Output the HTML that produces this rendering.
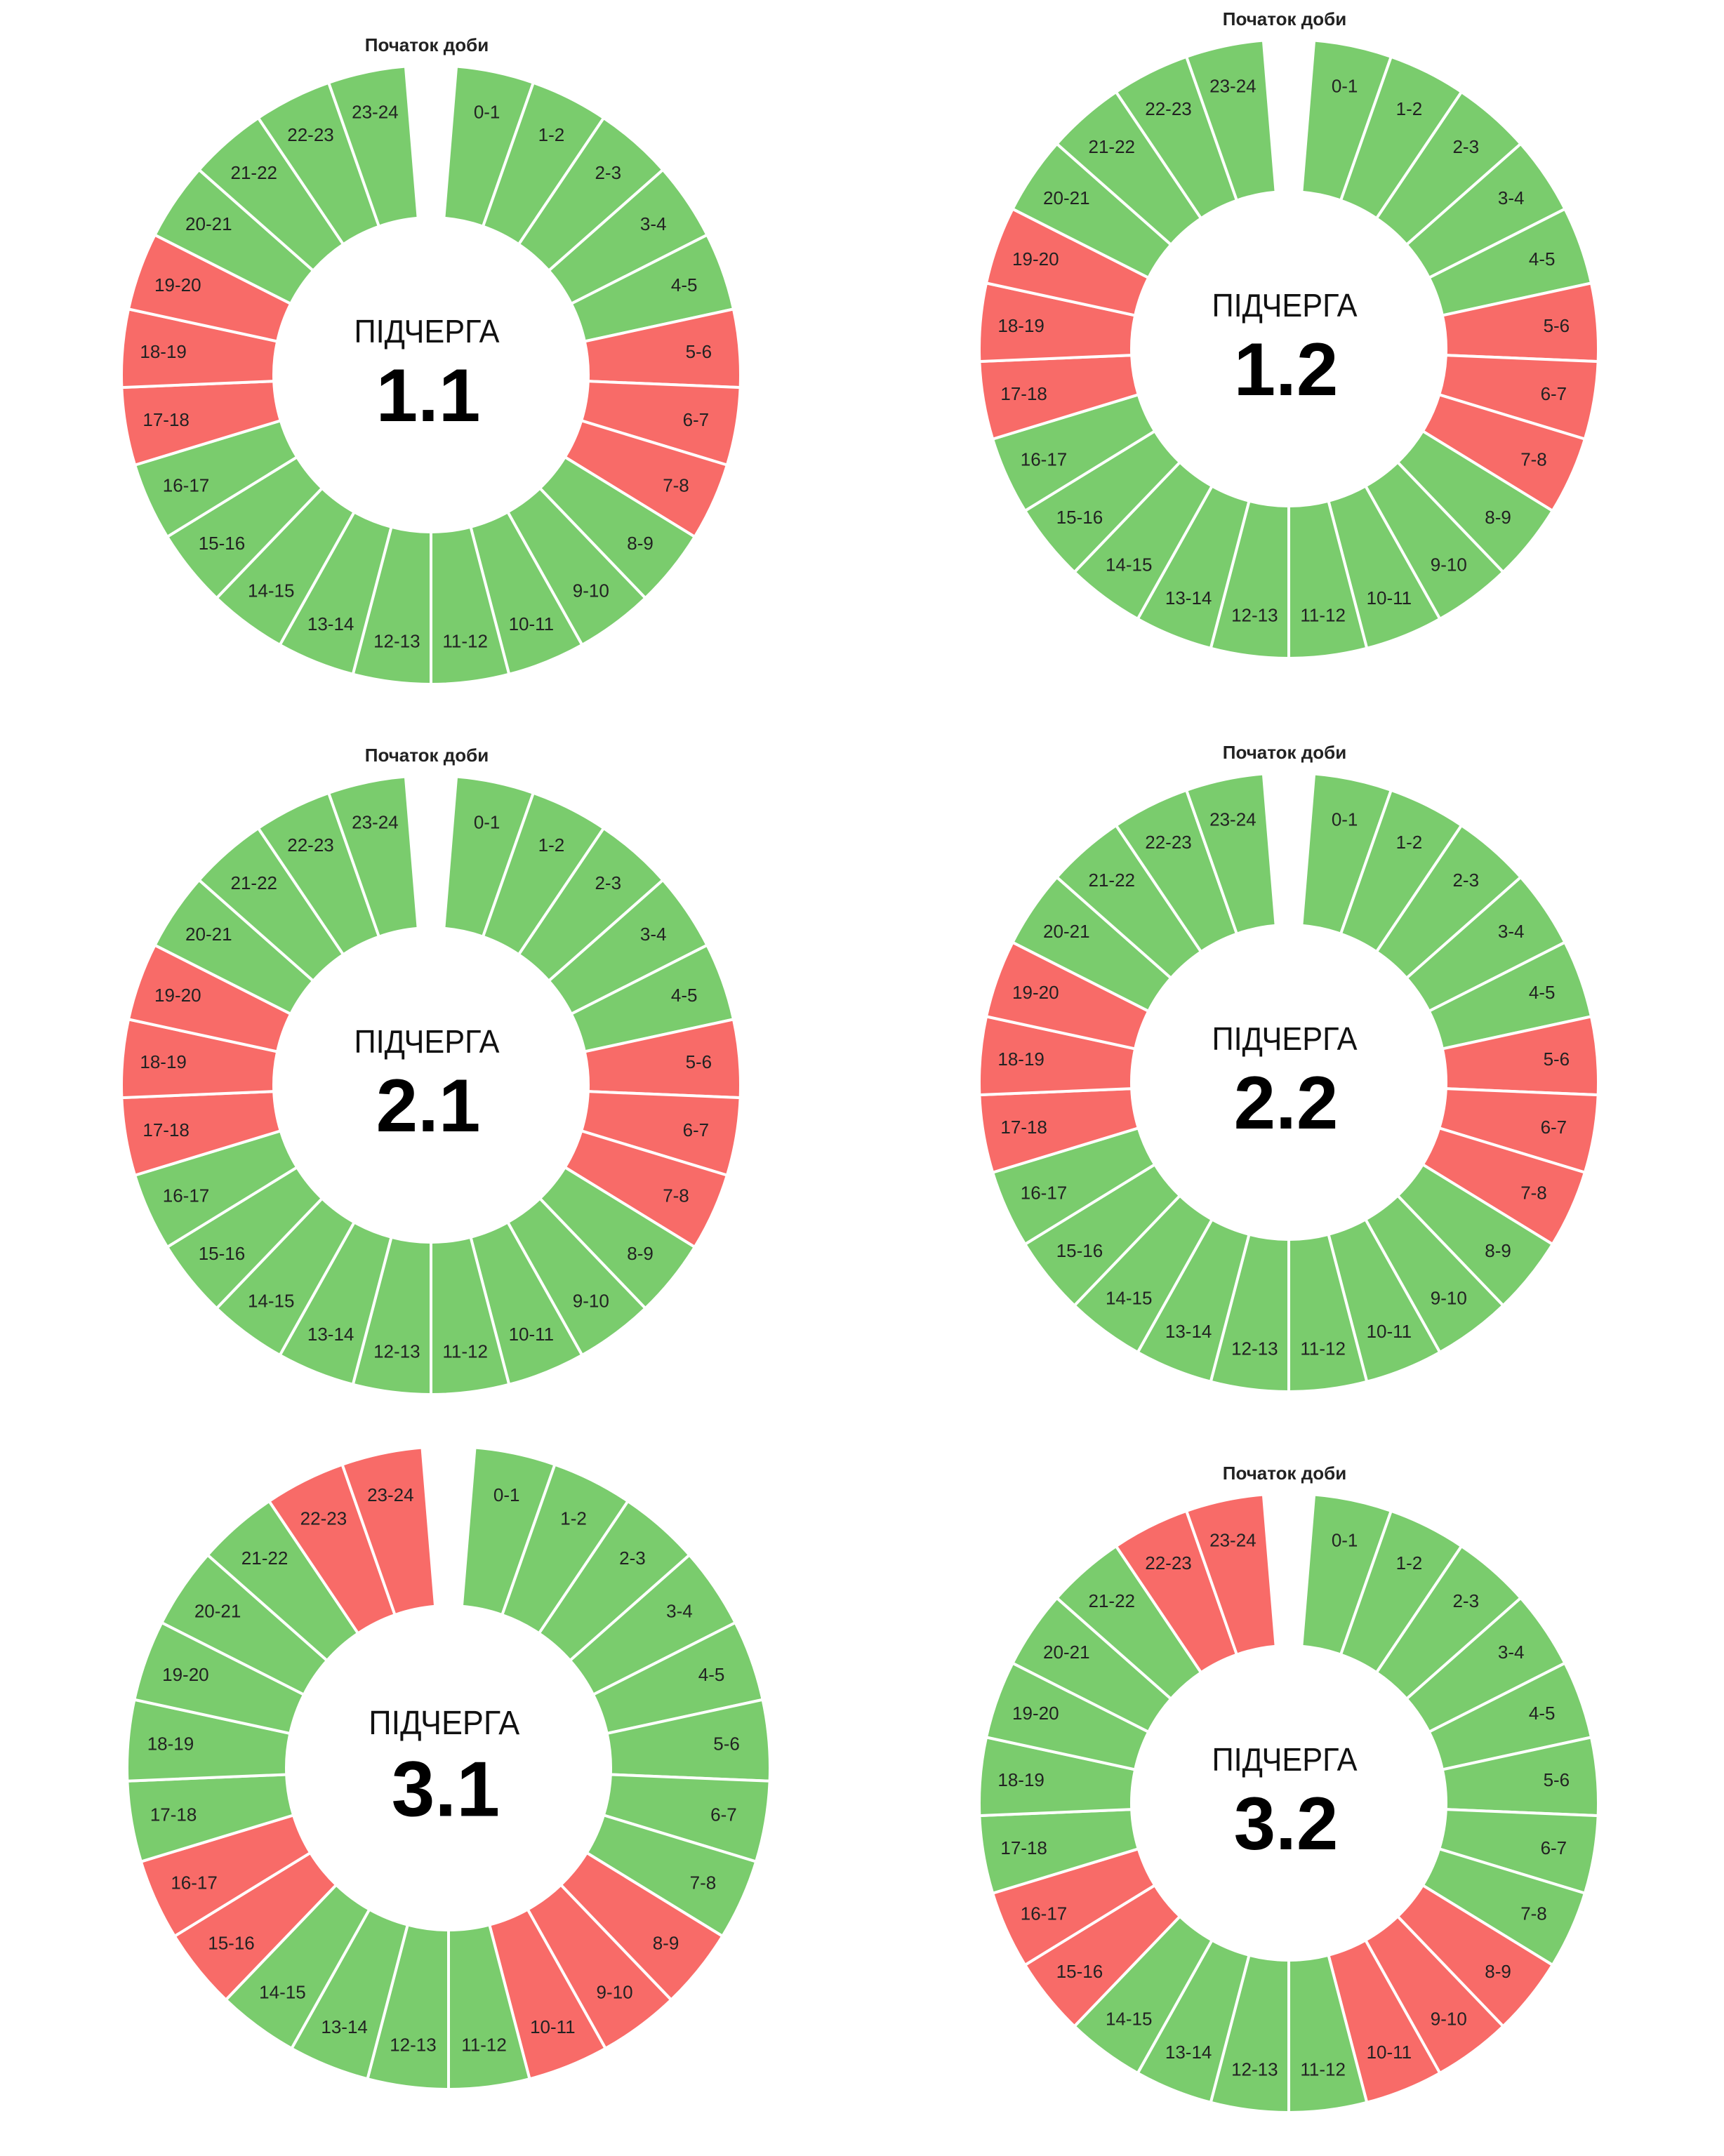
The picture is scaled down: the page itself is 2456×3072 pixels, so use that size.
<!DOCTYPE html>
<html><head><meta charset="utf-8"><style>
html,body{margin:0;padding:0;background:#fff;}
svg{display:block;}
</style></head><body>
<svg id="chart" width="2456" height="3072" viewBox="0 0 2456 3072" xmlns="http://www.w3.org/2000/svg"></svg>
<script>
const hourLabels = ["0-1","1-2","2-3","3-4","4-5","5-6","6-7","7-8","8-9","9-10","10-11","11-12","12-13","13-14","14-15","15-16","16-17","17-18","18-19","19-20","20-21","21-22","22-23","23-24"];
const queueNames = ["1.1","1.2","2.1","2.2","3.1","3.2"];
const offHours11 = [5,6,7,17,18,19];
const offHours12 = [5,6,7,17,18,19];
const offHours21 = [5,6,7,17,18,19];
const offHours22 = [5,6,7,17,18,19];
const offHours31 = [8,9,10,15,16,22,23];
const offHours32 = [8,9,10,15,16,22,23];
const offHoursAll = [offHours11, offHours12, offHours21, offHours22, offHours31, offHours32];
const showStartLabel = [true, true, true, true, false, true];

const layout = [
  {cx:614, cy:534, rOut:441, rIn:224},
  {cx:1836, cy:497, rOut:441, rIn:224},
  {cx:614, cy:1546, rOut:441, rIn:224},
  {cx:1836, cy:1542, rOut:441, rIn:224},
  {cx:639, cy:2519, rOut:458, rIn:231},
  {cx:1836, cy:2569, rOut:441, rIn:224}
];
const GREEN = "#7acc6d", RED = "#f86b68";
const GAP = 9.4;
const svg = document.getElementById('chart');
const NS = "http://www.w3.org/2000/svg";

function pt(cx, cy, r, deg){ const a = deg*Math.PI/180; return [cx + r*Math.sin(a), cy - r*Math.cos(a)]; }
function angleScale(i){ const w = (360-GAP)/hourLabels.length; return GAP/2 + i*w; }

queueNames.forEach(function(q, k){
  const L = layout[k];
  const g = document.createElementNS(NS, 'g');
  
  
  svg.appendChild(g);
  hourLabels.forEach(function(lab, i){
    const a0 = angleScale(i), a1 = angleScale(i+1);
    const p1 = pt(L.cx, L.cy, L.rOut, a0), p2 = pt(L.cx, L.cy, L.rOut, a1);
    const p3 = pt(L.cx, L.cy, L.rIn, a1), p4 = pt(L.cx, L.cy, L.rIn, a0);
    const path = document.createElementNS(NS, 'path');
    path.setAttribute('d', 'M'+p1+' A'+L.rOut+' '+L.rOut+' 0 0 1 '+p2+' L'+p3+' A'+L.rIn+' '+L.rIn+' 0 0 0 '+p4+' Z');
    const off = offHoursAll[k].indexOf(i) >= 0;
    path.setAttribute('fill', off ? RED : GREEN);
    path.setAttribute('stroke', '#fff');
    path.setAttribute('stroke-width', '4');
    
    
    g.appendChild(path);
    const lp = pt(L.cx, L.cy, L.rOut*0.868, (a0+a1)/2);
    const t = document.createElementNS(NS, 'text');
    t.setAttribute('x', lp[0]); t.setAttribute('y', lp[1]);
    t.setAttribute('text-anchor', 'middle'); t.setAttribute('dominant-baseline', 'central');
    t.setAttribute('font-family', 'Liberation Sans, sans-serif'); t.setAttribute('font-size', '26');
    t.setAttribute('fill', '#222');
    
    
    t.textContent = lab;
    g.appendChild(t);
  });
  const s = L.rOut/441;
  const t1 = document.createElementNS(NS, 'text');
  t1.setAttribute('x', L.cx - 6*s); t1.setAttribute('y', L.cy - 46*s);
  t1.setAttribute('text-anchor', 'middle');
  t1.setAttribute('font-family', 'Liberation Sans, sans-serif'); t1.setAttribute('font-size', 46*s);
  t1.setAttribute('textLength', 207*s); t1.setAttribute('lengthAdjust', 'spacingAndGlyphs');
  t1.setAttribute('fill', '#111');
  
  
  t1.textContent = 'ПІДЧЕРГА';
  g.appendChild(t1);
  const t2 = document.createElementNS(NS, 'text');
  t2.setAttribute('x', L.cx - 4*s); t2.setAttribute('y', L.cy + 66*s);
  t2.setAttribute('text-anchor', 'middle');
  t2.setAttribute('font-family', 'Liberation Sans, sans-serif'); t2.setAttribute('font-size', 107*s);
  t2.setAttribute('font-weight', 'bold'); t2.setAttribute('fill', '#000');
  
  
  t2.textContent = q;
  g.appendChild(t2);
  if (showStartLabel[k]) {
    const t3 = document.createElementNS(NS, 'text');
    t3.setAttribute('x', L.cx - 6); t3.setAttribute('y', L.cy - L.rOut - 20);
    t3.setAttribute('text-anchor', 'middle');
    t3.setAttribute('font-family', 'Liberation Sans, sans-serif'); t3.setAttribute('font-size', '26');
    t3.setAttribute('font-weight', 'bold'); t3.setAttribute('fill', '#222');
    
    
    t3.textContent = 'Початок доби';
    g.appendChild(t3);
  }
});
</script>
</body></html>
